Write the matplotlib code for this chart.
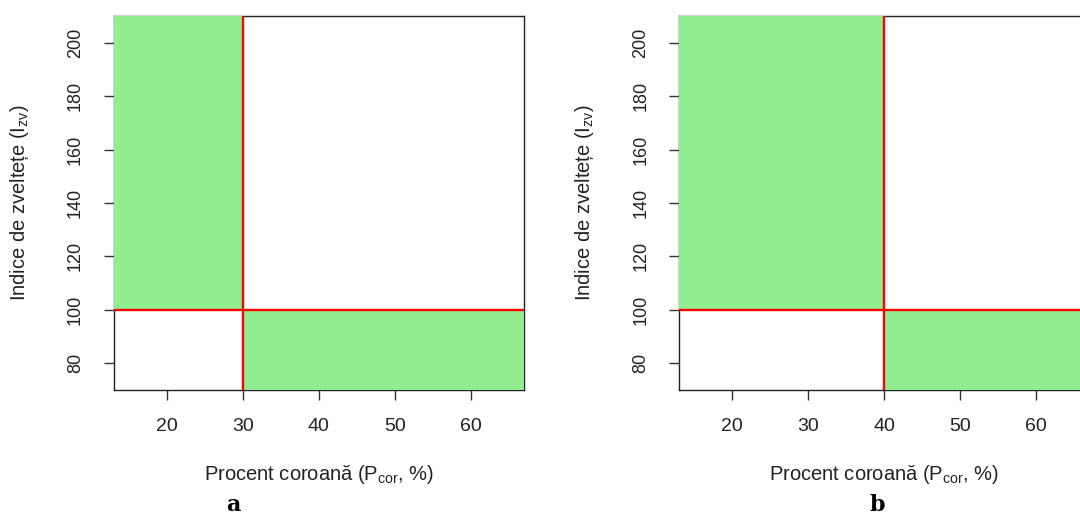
import matplotlib.pyplot as plt

plt.rcParams['font.family'] = ['Liberation Sans', 'DejaVu Sans']
plt.rcParams['mathtext.default'] = 'regular'

# Panel labels and thresholds
panel_labels = ['a', 'b']
crown_thresholds = [30, 40]      # Procent coroană threshold (vertical red line)
slenderness_threshold = 100      # Indice de zveltețe threshold (horizontal red line)

x_limits = [13, 67]
y_limits = [70, 210]
x_ticks = [20, 30, 40, 50, 60]
y_ticks = [80, 100, 120, 140, 160, 180, 200]

green = '#90EE90'

fig = plt.figure(figsize=(10.8, 5.18), dpi=100)

axes_left = [0.1052, 0.6287]
letter_x = [0.2157, 0.8125]
for left, lx, thr, lab in zip(axes_left, letter_x, crown_thresholds, panel_labels):
    ax = fig.add_axes([left, 0.2471, 0.3800, 0.7220])
    ax.set_xlim(x_limits)
    ax.set_ylim(y_limits)

    # upper-left and lower-right zones shaded green
    ax.fill_between([x_limits[0], thr], slenderness_threshold, y_limits[1],
                    color=green, lw=0, zorder=3)
    ax.fill_between([thr, x_limits[1]], y_limits[0], slenderness_threshold,
                    color=green, lw=0, zorder=3)

    ax.axhline(slenderness_threshold, color='red', lw=1.7, zorder=4)
    ax.axvline(thr, color='red', lw=1.7, zorder=4)

    for s in ax.spines.values():
        s.set_linewidth(1.0)
        s.set_color('#222222')
        s.set_zorder(2)

    ax.set_xticks(x_ticks)
    ax.set_yticks(y_ticks)
    ax.tick_params(direction='out', length=7.5, width=1.0, color='#333333',
                   labelcolor='#222222')
    ax.tick_params(axis='x', pad=13, labelsize=14)
    ax.tick_params(axis='y', pad=14, labelsize=13)
    for t in ax.get_yticklabels():
        t.set_rotation(90)
        t.set_va('center')

    ax.set_xlabel('Procent coroană (P$_{cor}$, %)', fontsize=14.5,
                  color='#222222', labelpad=20)
    ax.set_ylabel('Indice de zveltețe (I$_{zv}$)', fontsize=14.5,
                  color='#222222', labelpad=26)

    # panel letter below the plot
    fig.text(lx, 0.014, lab, fontsize=16, fontweight='bold',
             family='DejaVu Serif', ha='center', va='baseline')

plt.savefig('out.png', dpi=100)
